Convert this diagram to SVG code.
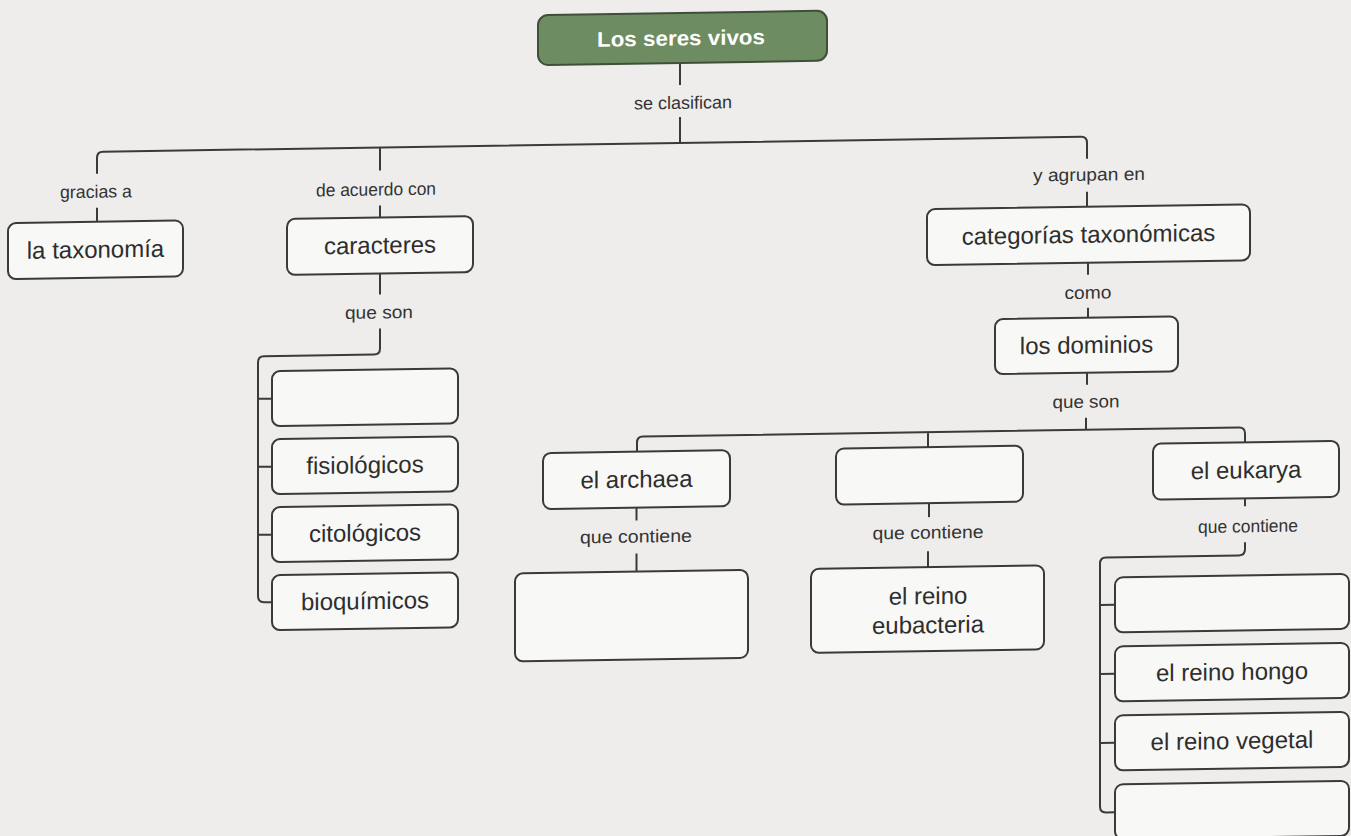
<svg xmlns="http://www.w3.org/2000/svg" width="1351" height="836" viewBox="0 0 1351 836">
<style>
.bg{fill:#eeedeb}
.box{fill:#f8f8f6;stroke:#3a3a3a;stroke-width:2}
.root{fill:#6d8c61;stroke:#3f4f3a;stroke-width:2}
.conn path{fill:none;stroke:#3a3a3a;stroke-width:2}
.t{font-family:"Liberation Sans",Arial,sans-serif;font-size:24px;fill:#2e2e2e;text-anchor:middle}
.rt{font-family:"Liberation Sans",Arial,sans-serif;font-size:21px;font-weight:bold;fill:#ffffff;text-anchor:middle}
.lb{font-family:"Liberation Sans",Arial,sans-serif;font-size:18px;fill:#333333;text-anchor:middle}
</style>
<rect class="bg" x="0" y="0" width="1351" height="836"/>
<g transform="matrix(1 -0.0152 0 1 0 10.26)">
<g id="connectors" class="conn">
<path d="M680 63 V85 M680 117 V143"/>
<path d="M97 165 V149 Q97 143 103 143 H1081 Q1087 143 1087 149 V165"/>
<path d="M380 143 V166"/>
<path d="M97 199 V213 M380 201 V213 M1087 198 V213"/>
<path d="M380 269 V290 M380 324 V344 Q380 350 374 350 H264 Q258 350 258 356 V590 Q258 596 264 596 H272"/>
<path d="M258 392.5 H272 M258 460.5 H272 M258 528.5 H272"/>
<path d="M1088 269 V281 M1088 314 V324"/>
<path d="M1087 379 V391 M1086 424 V436"/>
<path d="M637 451 V442 Q637 436 643 436 H1239 Q1245 436 1245 442 V451 M928 436 V451"/>
<path d="M636.5 507 V520 M636.5 553 V571"/>
<path d="M929 507 V521 M928 555 V571"/>
<path d="M1245 507 V515 M1245 551 V558 Q1245 564 1239 564 H1106 Q1100 564 1100 570 V813 Q1100 819 1106 819 H1115"/>
<path d="M1100 611.5 H1115 M1100 680.5 H1115 M1100 749.5 H1115"/>
<text class="lb" x="683" y="109" textLength="98" lengthAdjust="spacingAndGlyphs">se clasifican</text>
<text class="lb" x="96" y="189" textLength="72" lengthAdjust="spacingAndGlyphs">gracias a</text>
<text class="lb" x="376" y="191" textLength="120" lengthAdjust="spacingAndGlyphs">de acuerdo con</text>
<text class="lb" x="1089" y="187" textLength="112" lengthAdjust="spacingAndGlyphs">y agrupan en</text>
<text class="lb" x="379" y="314" textLength="68" lengthAdjust="spacingAndGlyphs">que son</text>
<text class="lb" x="1088" y="305" textLength="47" lengthAdjust="spacingAndGlyphs">como</text>
<text class="lb" x="1086" y="414" textLength="67" lengthAdjust="spacingAndGlyphs">que son</text>
<text class="lb" x="636" y="542" textLength="112" lengthAdjust="spacingAndGlyphs">que contiene</text>
<text class="lb" x="928" y="542.5" textLength="111" lengthAdjust="spacingAndGlyphs">que contiene</text>
<text class="lb" x="1248" y="541" textLength="100" lengthAdjust="spacingAndGlyphs">que contiene</text>
</g>
<g id="root"><rect class="root" x="538" y="13" width="289" height="50" rx="10"/><text class="rt" x="681" y="45.5" textLength="168" lengthAdjust="spacingAndGlyphs">Los seres vivos</text></g>
<g id="taxonomia"><rect class="box" x="8" y="213" width="175" height="56" rx="8"/><text class="t" x="95.5" y="249">la taxonomía</text></g>
<g id="caracteres"><rect class="box" x="287" y="213" width="186" height="56" rx="8"/><text class="t" x="380" y="249">caracteres</text></g>
<g id="categorias"><rect class="box" x="927" y="213" width="323" height="56" rx="8"/><text class="t" x="1088.5" y="249">categorías taxonómicas</text></g>
<g id="caracter-vacio"><rect class="box" x="272" y="365" width="186" height="55" rx="8"/></g>
<g id="fisiologicos"><rect class="box" x="272" y="433" width="186" height="55" rx="8"/><text class="t" x="365" y="468.5">fisiológicos</text></g>
<g id="citologicos"><rect class="box" x="272" y="501" width="186" height="55" rx="8"/><text class="t" x="365" y="536.5">citológicos</text></g>
<g id="bioquimicos"><rect class="box" x="272" y="569" width="186" height="55" rx="8"/><text class="t" x="365" y="604.5">bioquímicos</text></g>
<g id="dominios"><rect class="box" x="995" y="324" width="183" height="55" rx="8"/><text class="t" x="1086.5" y="359.5">los dominios</text></g>
<g id="archaea"><rect class="box" x="543" y="451" width="187" height="56" rx="8"/><text class="t" x="636.5" y="487">el archaea</text></g>
<g id="dominio-vacio"><rect class="box" x="836" y="451" width="187" height="56" rx="8"/></g>
<g id="eukarya"><rect class="box" x="1153" y="451" width="186" height="56" rx="8"/><text class="t" x="1246" y="487">el eukarya</text></g>
<g id="archaea-reino"><rect class="box" x="515" y="571" width="233" height="88" rx="8"/></g>
<g id="eubacteria"><rect class="box" x="811" y="571" width="233" height="84" rx="8"/><text class="t" x="928" y="608">el reino</text><text class="t" x="928" y="637">eubacteria</text></g>
<g id="reino-vacio-1"><rect class="box" x="1115" y="584" width="234" height="55" rx="8"/></g>
<g id="reino-hongo"><rect class="box" x="1115" y="653" width="234" height="55" rx="8"/><text class="t" x="1232" y="688.5">el reino hongo</text></g>
<g id="reino-vegetal"><rect class="box" x="1115" y="722" width="234" height="55" rx="8"/><text class="t" x="1232" y="757.5">el reino vegetal</text></g>
<g id="reino-vacio-2"><rect class="box" x="1115" y="791" width="234" height="55" rx="8"/></g>
</g>
</svg>
